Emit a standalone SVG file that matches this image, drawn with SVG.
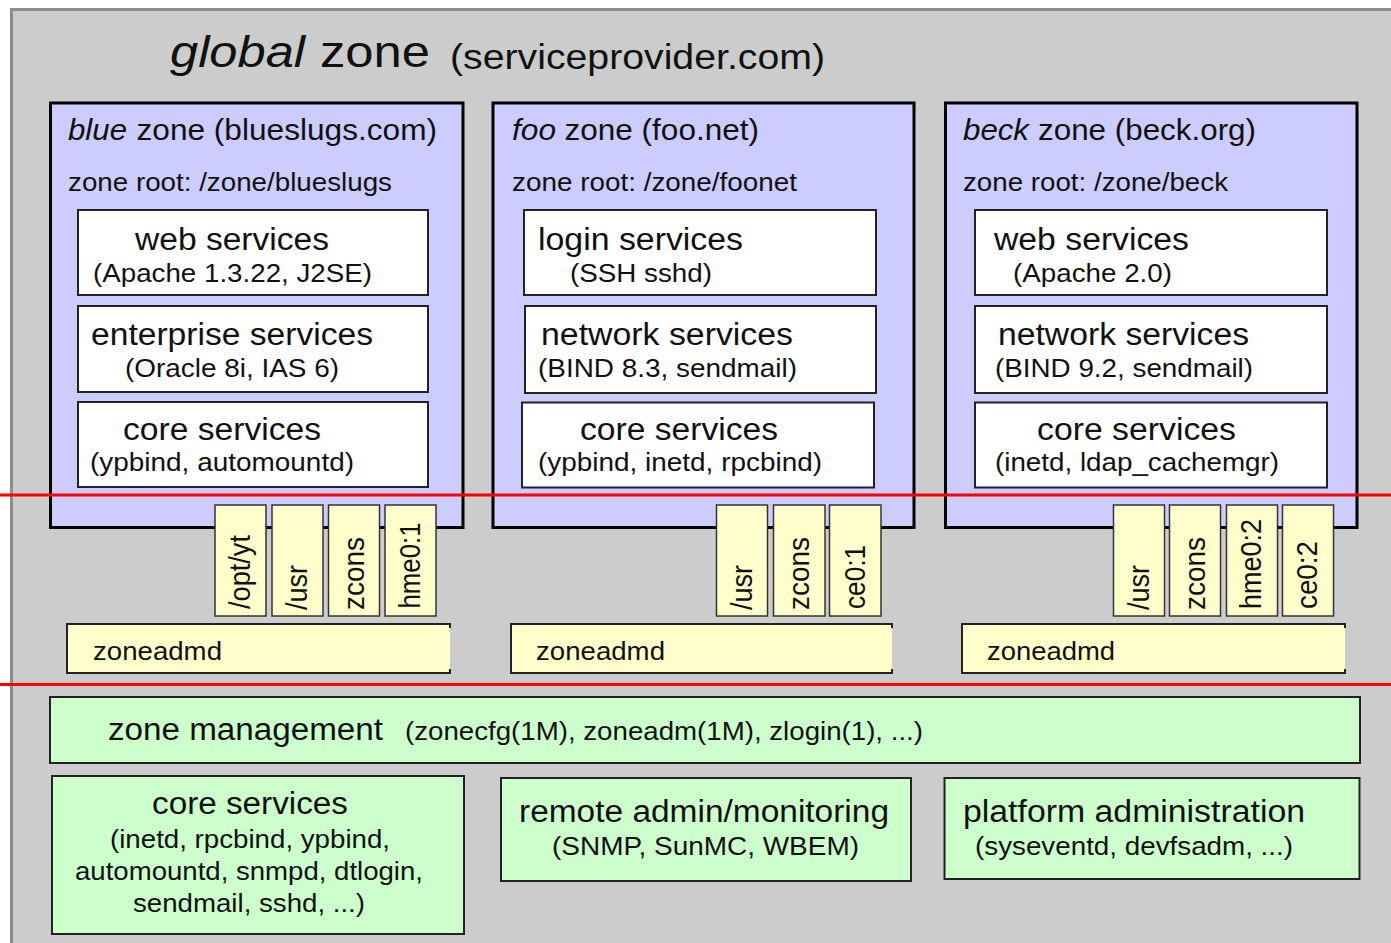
<svg xmlns="http://www.w3.org/2000/svg" width="1391" height="943" viewBox="0 0 1391 943">
<style>
.t{font-family:"Liberation Sans",Arial,sans-serif;fill:#111}
.i{font-style:italic}
.zone{fill:#ccccff;stroke:#000;stroke-width:3}
.svc{fill:#fff;stroke:#222;stroke-width:2}
.tab{fill:#ffffcc;stroke:#333;stroke-width:1.5}
.adm{fill:#ffffcc}
.admb{fill:none;stroke:#222;stroke-width:2}
.grn{fill:#ccffcc;stroke:#222;stroke-width:2}
.red{stroke:#ff0000;stroke-width:3}
</style>
<rect x="0" y="0" width="1391" height="943" fill="#fff"/>
<g id="global">
<rect x="11.5" y="9.5" width="1390" height="945" fill="#cccccc" stroke="#8c8c8c" stroke-width="3"/>
<text class="t i" x="170" y="67" font-size="45" textLength="135" lengthAdjust="spacingAndGlyphs">global</text>
<text class="t" x="320" y="67" font-size="45" textLength="110" lengthAdjust="spacingAndGlyphs">zone</text>
<text class="t" x="450" y="69" font-size="35" textLength="375" lengthAdjust="spacingAndGlyphs">(serviceprovider.com)</text>
</g>

<g id="blue-zone">
<rect class="zone" x="50.5" y="103" width="412.5" height="424.5"/>
<text class="t i" x="68" y="140" font-size="30" textLength="59" lengthAdjust="spacingAndGlyphs">blue</text>
<text class="t" x="136.5" y="140" font-size="30" textLength="300.5" lengthAdjust="spacingAndGlyphs">zone (blueslugs.com)</text>
<text class="t" x="68" y="191" font-size="25" textLength="324" lengthAdjust="spacingAndGlyphs">zone root: /zone/blueslugs</text>
</g>
<g id="blue-web">
<rect class="svc" x="78" y="210" width="350" height="85"/>
<text class="t" x="135" y="250" font-size="31" textLength="194" lengthAdjust="spacingAndGlyphs">web services</text>
<text class="t" x="93" y="282" font-size="26" textLength="279" lengthAdjust="spacingAndGlyphs">(Apache 1.3.22, J2SE)</text>
</g>
<g id="blue-enterprise">
<rect class="svc" x="78" y="306" width="350" height="86"/>
<text class="t" x="91" y="345" font-size="31" textLength="282" lengthAdjust="spacingAndGlyphs">enterprise services</text>
<text class="t" x="125" y="377" font-size="26" textLength="214" lengthAdjust="spacingAndGlyphs">(Oracle 8i, IAS 6)</text>
</g>
<g id="blue-core">
<rect class="svc" x="78" y="402" width="350" height="85"/>
<text class="t" x="123" y="440" font-size="31" textLength="198" lengthAdjust="spacingAndGlyphs">core services</text>
<text class="t" x="90" y="471" font-size="26" textLength="264" lengthAdjust="spacingAndGlyphs">(ypbind, automountd)</text>
</g>

<g id="foo-zone">
<rect class="zone" x="493" y="103" width="421" height="424.5"/>
<text class="t i" x="512" y="140" font-size="30" textLength="44" lengthAdjust="spacingAndGlyphs">foo</text>
<text class="t" x="564.5" y="140" font-size="30" textLength="194.5" lengthAdjust="spacingAndGlyphs">zone (foo.net)</text>
<text class="t" x="512" y="191" font-size="25" textLength="285" lengthAdjust="spacingAndGlyphs">zone root: /zone/foonet</text>
</g>
<g id="foo-login">
<rect class="svc" x="524" y="210" width="352" height="85"/>
<text class="t" x="538" y="250" font-size="31" textLength="205" lengthAdjust="spacingAndGlyphs">login services</text>
<text class="t" x="570" y="282" font-size="26" textLength="142" lengthAdjust="spacingAndGlyphs">(SSH sshd)</text>
</g>
<g id="foo-network">
<rect class="svc" x="525" y="306" width="351" height="87"/>
<text class="t" x="541" y="345" font-size="31" textLength="252" lengthAdjust="spacingAndGlyphs">network services</text>
<text class="t" x="538" y="377" font-size="26" textLength="259" lengthAdjust="spacingAndGlyphs">(BIND 8.3, sendmail)</text>
</g>
<g id="foo-core">
<rect class="svc" x="522" y="402.5" width="352" height="85"/>
<text class="t" x="580" y="440" font-size="31" textLength="198" lengthAdjust="spacingAndGlyphs">core services</text>
<text class="t" x="538" y="471" font-size="26" textLength="284" lengthAdjust="spacingAndGlyphs">(ypbind, inetd, rpcbind)</text>
</g>

<g id="beck-zone">
<rect class="zone" x="945.5" y="103" width="411.5" height="424.5"/>
<text class="t i" x="963" y="140" font-size="30" textLength="66" lengthAdjust="spacingAndGlyphs">beck</text>
<text class="t" x="1038" y="140" font-size="30" textLength="218" lengthAdjust="spacingAndGlyphs">zone (beck.org)</text>
<text class="t" x="963" y="191" font-size="25" textLength="265" lengthAdjust="spacingAndGlyphs">zone root: /zone/beck</text>
</g>
<g id="beck-web">
<rect class="svc" x="975" y="210" width="352" height="85"/>
<text class="t" x="994" y="250" font-size="31" textLength="195" lengthAdjust="spacingAndGlyphs">web services</text>
<text class="t" x="1013" y="282" font-size="26" textLength="159" lengthAdjust="spacingAndGlyphs">(Apache 2.0)</text>
</g>
<g id="beck-network">
<rect class="svc" x="975" y="306" width="352" height="87"/>
<text class="t" x="998" y="345" font-size="31" textLength="251" lengthAdjust="spacingAndGlyphs">network services</text>
<text class="t" x="995" y="377" font-size="26" textLength="258" lengthAdjust="spacingAndGlyphs">(BIND 9.2, sendmail)</text>
</g>
<g id="beck-core">
<rect class="svc" x="975" y="402.5" width="352" height="85"/>
<text class="t" x="1037" y="440" font-size="31" textLength="199" lengthAdjust="spacingAndGlyphs">core services</text>
<text class="t" x="995" y="471" font-size="26" textLength="284" lengthAdjust="spacingAndGlyphs">(inetd, ldap_cachemgr)</text>
</g>

<g id="lines">
<line class="red" x1="0" y1="495" x2="1391" y2="495"/>
<line class="red" x1="0" y1="684.5" x2="1391" y2="684.5"/>
</g>

<g id="blue-tabs">
<rect class="tab" x="215" y="505" width="51" height="111"/>
<rect class="tab" x="272" y="505" width="51" height="111"/>
<rect class="tab" x="328.5" y="505" width="51" height="111"/>
<rect class="tab" x="385" y="505" width="51" height="111"/>
<text class="t" transform="translate(250,609) rotate(-90)" font-size="30" textLength="74" lengthAdjust="spacingAndGlyphs">/opt/yt</text>
<text class="t" transform="translate(307,610) rotate(-90)" font-size="30" textLength="45" lengthAdjust="spacingAndGlyphs">/usr</text>
<text class="t" transform="translate(363.5,610) rotate(-90)" font-size="30" textLength="73" lengthAdjust="spacingAndGlyphs">zcons</text>
<text class="t" transform="translate(420,608.5) rotate(-90)" font-size="30" textLength="86" lengthAdjust="spacingAndGlyphs">hme0:1</text>
</g>
<g id="foo-tabs">
<rect class="tab" x="716.5" y="505" width="51" height="111"/>
<rect class="tab" x="773.5" y="505" width="51.5" height="111"/>
<rect class="tab" x="829.5" y="505" width="51.5" height="111"/>
<text class="t" transform="translate(752,610) rotate(-90)" font-size="30" textLength="45" lengthAdjust="spacingAndGlyphs">/usr</text>
<text class="t" transform="translate(808.5,610) rotate(-90)" font-size="30" textLength="73" lengthAdjust="spacingAndGlyphs">zcons</text>
<text class="t" transform="translate(865,609) rotate(-90)" font-size="30" textLength="64" lengthAdjust="spacingAndGlyphs">ce0:1</text>
</g>
<g id="beck-tabs">
<rect class="tab" x="1113.5" y="505" width="51" height="111"/>
<rect class="tab" x="1169.5" y="505" width="51" height="111"/>
<rect class="tab" x="1226.5" y="505" width="51" height="111"/>
<rect class="tab" x="1282.5" y="505" width="51" height="111"/>
<text class="t" transform="translate(1148.5,610) rotate(-90)" font-size="30" textLength="45" lengthAdjust="spacingAndGlyphs">/usr</text>
<text class="t" transform="translate(1204.5,610) rotate(-90)" font-size="30" textLength="73" lengthAdjust="spacingAndGlyphs">zcons</text>
<text class="t" transform="translate(1261,609) rotate(-90)" font-size="30" textLength="90" lengthAdjust="spacingAndGlyphs">hme0:2</text>
<text class="t" transform="translate(1317,609) rotate(-90)" font-size="30" textLength="68" lengthAdjust="spacingAndGlyphs">ce0:2</text>
</g>

<g id="blue-zoneadmd">
<rect class="adm" x="67" y="624" width="383" height="49"/>
<path class="admb" d="M450,628 V624 H67 V673 H450 V669"/>
<text class="t" x="93" y="660" font-size="25" textLength="129" lengthAdjust="spacingAndGlyphs">zoneadmd</text>
</g>
<g id="foo-zoneadmd">
<rect class="adm" x="511" y="624" width="381" height="49"/>
<path class="admb" d="M892,628 V624 H511 V673 H892 V669"/>
<text class="t" x="536" y="660" font-size="25" textLength="129" lengthAdjust="spacingAndGlyphs">zoneadmd</text>
</g>
<g id="beck-zoneadmd">
<rect class="adm" x="962" y="624" width="383" height="49"/>
<path class="admb" d="M1345,628 V624 H962 V673 H1345 V669"/>
<text class="t" x="987" y="660" font-size="25" textLength="128" lengthAdjust="spacingAndGlyphs">zoneadmd</text>
</g>

<g id="zone-management">
<rect class="grn" x="50" y="697" width="1310" height="66"/>
<text class="t" x="108" y="740" font-size="31" textLength="275" lengthAdjust="spacingAndGlyphs">zone management</text>
<text class="t" x="405" y="740" font-size="26" textLength="518" lengthAdjust="spacingAndGlyphs">(zonecfg(1M), zoneadm(1M), zlogin(1), ...)</text>
</g>
<g id="gz-core">
<rect class="grn" x="52" y="776" width="412" height="158"/>
<text class="t" x="152" y="814" font-size="31" textLength="196" lengthAdjust="spacingAndGlyphs">core services</text>
<text class="t" x="110" y="848" font-size="26" textLength="280" lengthAdjust="spacingAndGlyphs">(inetd, rpcbind, ypbind,</text>
<text class="t" x="75" y="880" font-size="26" textLength="348" lengthAdjust="spacingAndGlyphs">automountd, snmpd, dtlogin,</text>
<text class="t" x="133" y="912" font-size="26" textLength="232" lengthAdjust="spacingAndGlyphs">sendmail, sshd, ...)</text>
</g>
<g id="gz-remote">
<rect class="grn" x="501" y="778" width="410" height="103"/>
<text class="t" x="519" y="822" font-size="31" textLength="370" lengthAdjust="spacingAndGlyphs">remote admin/monitoring</text>
<text class="t" x="552" y="855" font-size="26" textLength="307" lengthAdjust="spacingAndGlyphs">(SNMP, SunMC, WBEM)</text>
</g>
<g id="gz-platform">
<rect class="grn" x="944.5" y="778" width="415" height="101"/>
<text class="t" x="963" y="822" font-size="31" textLength="342" lengthAdjust="spacingAndGlyphs">platform administration</text>
<text class="t" x="975" y="855" font-size="26" textLength="318" lengthAdjust="spacingAndGlyphs">(syseventd, devfsadm, ...)</text>
</g>
</svg>
